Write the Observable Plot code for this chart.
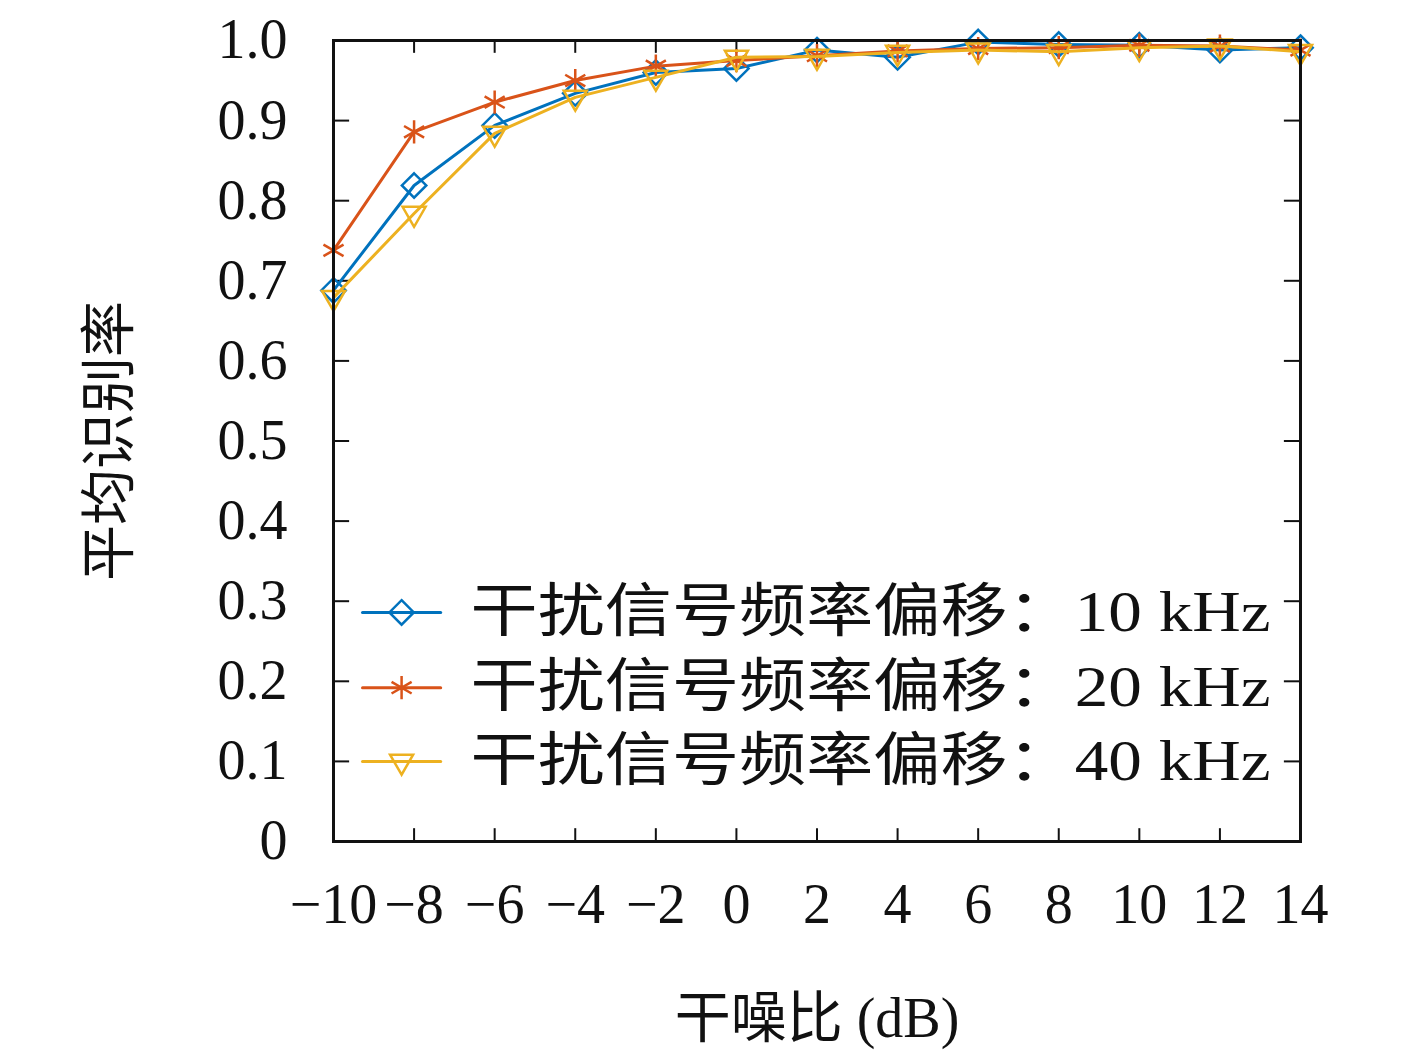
<!DOCTYPE html>
<html><head><meta charset="utf-8">
<script src="https://cdn.jsdelivr.net/npm/d3@7"></script>
<script src="https://cdn.jsdelivr.net/npm/@observablehq/plot@0.6"></script>
<style>body{margin:0;background:#fff}</style>
</head><body><div id="c"></div>
<script>
const snr = [-10,-8,-6,-4,-2,0,2,4,6,8,10,12,14];
const s10 = [0.688,0.819,0.894,0.934,0.960,0.965,0.988,0.979,0.998,0.995,0.994,0.988,0.991];
const s20 = [0.738,0.886,0.923,0.950,0.968,0.975,0.981,0.987,0.990,0.991,0.994,0.993,0.988];
const s40 = [0.679,0.784,0.884,0.929,0.954,0.979,0.980,0.985,0.988,0.986,0.991,0.993,0.986];
const names = ["干扰信号频率偏移：10 kHz","干扰信号频率偏移：20 kHz","干扰信号频率偏移：40 kHz"];
const colors = ["#0072BD","#D95319","#EDB120"];
const symbols = ["diamond2","asterisk","triangle2"];
const rot = [0,0,180];
const yTicks = [0,0.1,0.2,0.3,0.4,0.5,0.6,0.7,0.8,0.9,1.0];
const series = [s10,s20,s40];
const F = "'Liberation Serif','DejaVu Serif','Noto Sans CJK SC',serif";

const marks = [];
const legY = [0.286,0.192,0.1];
series.forEach((s,i)=>{
  const d = snr.map((x,j)=>({x,y:s[j]}));
  marks.push(Plot.line(d,{x:"x",y:"y",stroke:colors[i],strokeWidth:3}));
  marks.push(Plot.dot(d,{x:"x",y:"y",stroke:colors[i],symbol:symbols[i],r:11,strokeWidth:2.5,rotate:rot[i]}));
  marks.push(Plot.line([{x:-9.28,y:legY[i]},{x:-7.34,y:legY[i]}],{x:"x",y:"y",stroke:colors[i],strokeWidth:3}));
  marks.push(Plot.dot([{x:-8.31,y:legY[i]}],{x:"x",y:"y",stroke:colors[i],symbol:symbols[i],r:11,strokeWidth:2.5,rotate:rot[i]}));
  marks.push(Plot.text([{x:-6.6,y:legY[i],t:names[i]}],{x:"x",y:"y",text:"t",textAnchor:"start",fontSize:58,fill:"#111",fontFamily:F,className:"leg"}));
});
const plot = Plot.plot({
  width:1417, height:1051,
  marginLeft:333, marginRight:117, marginTop:40, marginBottom:210,
  style:{fontFamily:F, fontSize:"56px", color:"#111"},
  x:{domain:[-10,14]},
  y:{domain:[0,1]},
  marks:[
    Plot.axisX(snr,{tickSize:0, tickPadding:42, fontSize:56, tickFormat:d=>String(d).replace("-","−"), label:"干噪比 (dB)", labelAnchor:"center", labelOffset:195, labelArrow:"none"}),
    Plot.axisY(yTicks,{tickSize:0, tickPadding:46, fontSize:56, tickFormat:d=>d===0?"0":d.toFixed(1), label:"平均识别率", labelAnchor:"center", labelOffset:245, labelArrow:"none"}),
    Plot.ruleX(snr,{y1:0,y2:0.016,stroke:"#111",strokeWidth:2}),
    Plot.ruleX(snr,{y1:1,y2:0.984,stroke:"#111",strokeWidth:2}),
    Plot.ruleY(yTicks,{x1:-10,x2:-9.6,stroke:"#111",strokeWidth:2}),
    Plot.ruleY(yTicks,{x1:14,x2:13.6,stroke:"#111",strokeWidth:2}),
    ...marks,
    Plot.frame({stroke:"#111",strokeWidth:3})
  ]
});
plot.querySelectorAll(".leg text").forEach(t=>{t.setAttribute("textLength","800");t.setAttribute("lengthAdjust","spacingAndGlyphs");});
document.getElementById("c").appendChild(plot);
</script></body></html>
